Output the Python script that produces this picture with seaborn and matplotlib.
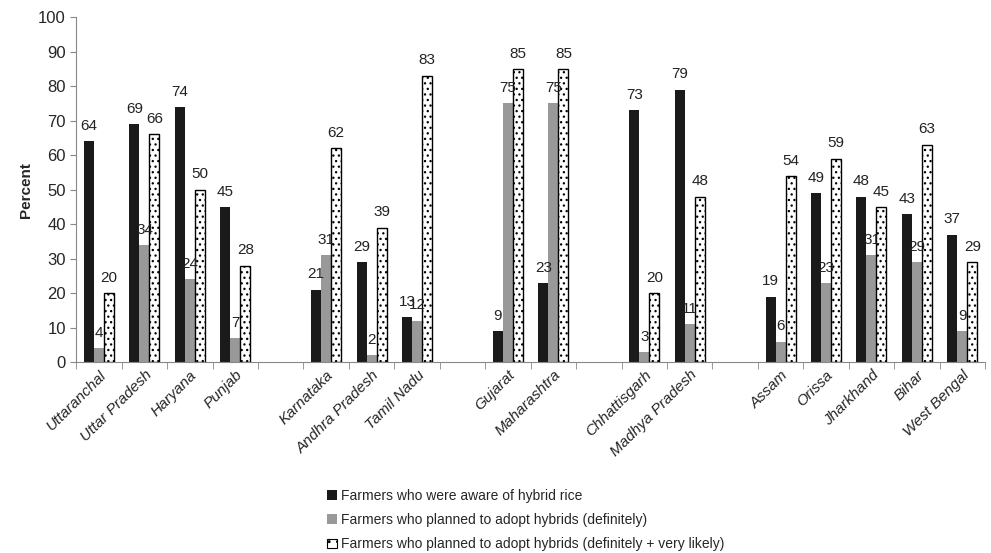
import matplotlib
matplotlib.use("Agg")
import matplotlib.pyplot as plt
import seaborn as sns
import pandas as pd
import numpy as np

# Estados (con huecos entre regiones)
estados = ["Uttaranchal", "Uttar Pradesh", "Haryana", "Punjab", "gap1",
           "Karnataka", "Andhra Pradesh", "Tamil Nadu", "gap2",
           "Gujarat", "Maharashtra", "gap3",
           "Chhattisgarh", "Madhya Pradesh", "gap4",
           "Assam", "Orissa", "Jharkhand", "Bihar", "West Bengal"]

conocen = [64, 69, 74, 45, np.nan, 21, 29, 13, np.nan, 9, 23, np.nan,
           73, 79, np.nan, 19, 49, 48, 43, 37]
definitivo = [4, 34, 24, 7, np.nan, 31, 2, 12, np.nan, 75, 75, np.nan,
              3, 11, np.nan, 6, 23, 31, 29, 9]
def_prob = [20, 66, 50, 28, np.nan, 62, 39, 83, np.nan, 85, 85, np.nan,
            20, 48, np.nan, 54, 59, 45, 63, 29]

series = ["Farmers who were aware of hybrid rice",
          "Farmers who planned to adopt hybrids (definitely)",
          "Farmers who planned to adopt hybrids (definitely + very likely)"]

df = pd.DataFrame({"estado": estados * 3,
                   "serie": [series[0]] * 20 + [series[1]] * 20 + [series[2]] * 20,
                   "valor": conocen + definitivo + def_prob})

sns.set_style("white")
plt.rcParams["font.family"] = ["Liberation Sans", "DejaVu Sans"]
plt.rcParams["hatch.linewidth"] = 0.9

fig = plt.figure(figsize=(9.91, 5.53), dpi=100)
ax = fig.add_axes([0.077, 0.345, 0.917, 0.624])

sns.barplot(data=df, x="estado", y="valor", hue="serie", order=estados, hue_order=series,
            palette=["#1a1a1a", "#999999", "white"], width=0.66, saturation=1,
            errorbar=None, ax=ax)

# Estilo de barras
for i, cont in enumerate(ax.containers):
    for bar in cont:
        if i == 2:
            bar.set_hatch("...")
            bar.set_edgecolor("black")
            bar.set_linewidth(1.0)
        else:
            bar.set_edgecolor("none")
    etiquetas = ["" if np.isnan(v) else f"{int(v)}" for v in cont.datavalues]
    ax.bar_label(cont, labels=etiquetas, padding=6, fontsize=11, color="#222222")

ax.set_ylim(0, 100)
ax.set_yticks(range(0, 101, 10))
ax.set_xlim(-0.5, len(estados) - 0.5)
ax.tick_params(axis="y", labelsize=12, length=4, color="#888888", left=True)
ax.set_ylabel("Percent", fontsize=11, fontweight="bold")
ax.set_xlabel("")

nombres = ["" if e.startswith("gap") else e for e in estados]
ax.set_xticks(range(len(estados)))
ax.set_xticklabels(nombres, rotation=45, ha="right", rotation_mode="anchor",
                   fontsize=11, fontstyle="italic")
ax.tick_params(axis="x", length=0, pad=4)
ax.set_xticks(np.arange(-0.5, len(estados), 1), minor=True)
ax.tick_params(axis="x", which="minor", length=5, color="#888888", bottom=True)

sns.despine(ax=ax)
for s in ["left", "bottom"]:
    ax.spines[s].set_color("#888888")

leg = ax.legend(loc="upper left", bbox_to_anchor=(0.262, -0.33), frameon=False, fontsize=10,
                handlelength=0.7, handleheight=0.7, handletextpad=0.3, labelspacing=0.75)
for h in leg.legend_handles:
    h.set_edgecolor("none")
leg.legend_handles[2].set_edgecolor("black")
leg.legend_handles[2].set_linewidth(0.8)
leg.legend_handles[2].set_hatch("..")

fig.savefig("out.png", dpi=100)
